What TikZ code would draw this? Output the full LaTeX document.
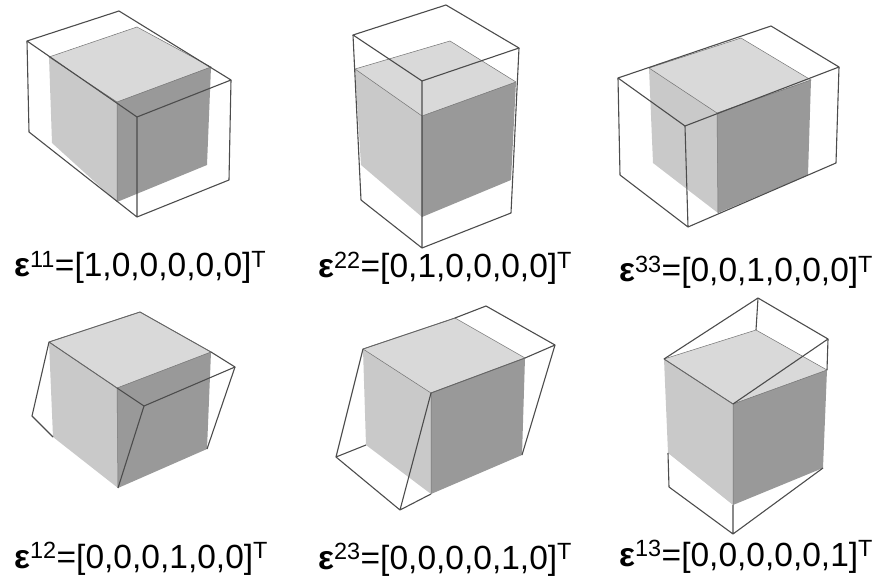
\documentclass[tikz,border=0pt]{standalone}
\usepackage{fontspec}
\setmainfont{Liberation Sans}
\usepackage{xcolor}
\usepackage{tikz}
\definecolor{topgray}{gray}{0.85}
\definecolor{leftgray}{gray}{0.79}
\definecolor{rightgray}{gray}{0.60}
\definecolor{wiregray}{gray}{0.30}
\newcommand{\graycube}[7]{%
  \fill[topgray] (#1) -- (#2) -- (#3) -- (#4) -- cycle;
  \fill[leftgray] (#1) -- (#4) -- (#7) -- (#5) -- cycle;
  \fill[rightgray] (#4) -- (#3) -- (#6) -- (#7) -- cycle;
  \draw[edge] (#1) -- (#2) -- (#3) -- (#4) -- cycle (#4) -- (#7);
}
\begin{document}
\begin{tikzpicture}[
  x=1pt, y=-1pt,
  edge/.style={draw=black!55, line width=0.5pt},
  wire/.style={draw=wiregray, line width=1.1pt, line join=round},
  shared/.style={draw=black!60, line width=0.9pt, line join=round},
  strain/.style={anchor=base west, inner sep=0pt, font=\fontsize{33.5}{36}\selectfont}
]
\useasboundingbox (0,0) rectangle (879,577);
% top row
\graycube{49,57}{137,27}{211,67}{117,102}{52,143}{207,165}{117,202}
\draw[wire] (27,41) -- (119,11) -- (231,80) -- (137,117) -- cycle;
\draw[wire] (27,41) -- (29,132) -- (137,217) -- (229,180) -- (231,80) (137,117) -- (137,217);
\graycube{355,69}{450,41}{516,82}{422,116}{361,165}{511,180}{422,217}
\draw[wire] (353,35) -- (446,5) -- (519,48) -- (422,81) -- cycle;
\draw[wire] (353,35) -- (361,200) -- (422,248) -- (511,213) -- (519,48) (422,81) -- (422,248);
\graycube{649,68}{741,38}{811,80}{717,113}{653,163}{808,175}{718,213}
\draw[wire] (618,78) -- (771,26) -- (839,67) -- (685,126) -- cycle;
\draw[wire] (618,78) -- (620,175) -- (688,227) -- (836,163) -- (839,67) (685,126) -- (688,227);
% bottom row
\graycube{49,342}{140,312}{211,352}{117,388}{53,437}{207,449}{118,488}
\draw[shared] (49,342) -- (140,312) -- (211,352) (49,342) -- (117,388);
\draw[wire] (49,342) -- (32,416) -- (53,437);
\draw[wire] (117,388) -- (144,406) -- (235,367) -- (211,352);
\draw[wire] (235,367) -- (207,449) (144,406) -- (118,488);
\graycube{363,349}{455,318}{525,358}{431,393}{366,445}{522,455}{431,494}
\draw[shared] (363,349) -- (455,318) (431,393) -- (525,358);
\draw[wire] (363,349) -- (336,457) -- (366,445);
\draw[wire] (336,457) -- (400,510) -- (431,494) (400,510) -- (431,393);
\draw[wire] (455,318) -- (486,306) -- (555,345) -- (525,358) (555,345) -- (522,455);
\graycube{664,359}{756,330}{827,370}{733,404}{668,453}{823,468}{733,505}
\draw[shared] (664,359) -- (733,404);
\draw[wire] (664,359) -- (758,298) -- (828,339) -- (733,404);
\draw[wire] (758,298) -- (756,330) (828,339) -- (827,370);
\draw[wire] (668,453) -- (669,487) -- (733,534) -- (823,468) (733,505) -- (733,534);
% labels
\node[strain] (e11) at (14,277) {\textbf{ε}\textsuperscript{11}=[1,0,0,0,0,0]\textsuperscript{T}};
\node[strain] (e22) at (318,278) {\textbf{ε}\textsuperscript{22}=[0,1,0,0,0,0]\textsuperscript{T}};
\node[strain] (e33) at (619,282) {\textbf{ε}\textsuperscript{33}=[0,0,1,0,0,0]\textsuperscript{T}};
\node[strain] (e12) at (14,568) {\textbf{ε}\textsuperscript{12}=[0,0,0,1,0,0]\textsuperscript{T}};
\node[strain] (e23) at (318,569) {\textbf{ε}\textsuperscript{23}=[0,0,0,0,1,0]\textsuperscript{T}};
\node[strain] (e13) at (619,566) {\textbf{ε}\textsuperscript{13}=[0,0,0,0,0,1]\textsuperscript{T}};
\end{tikzpicture}
\end{document}
